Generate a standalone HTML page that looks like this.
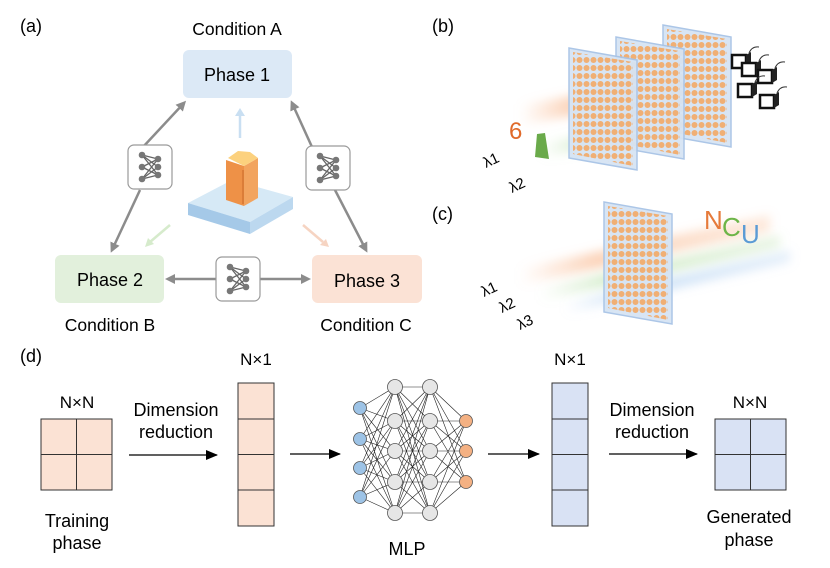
<!DOCTYPE html>
<html><head><meta charset="utf-8"><style>
html,body{margin:0;padding:0;background:#fff;}
svg{display:block;font-family:"Liberation Sans",Arial,sans-serif;}
</style></head><body>
<svg width="830" height="568" viewBox="0 0 830 568" xmlns="http://www.w3.org/2000/svg">
<defs>
<filter id="blur" x="-20%" y="-50%" width="140%" height="200%"><feGaussianBlur stdDeviation="5"/></filter>
<marker id="ga" markerWidth="10" markerHeight="10" refX="7" refY="5" orient="auto" markerUnits="userSpaceOnUse"><path d="M0,0 L10,5 L0,10 Z" fill="#8c8c8c"/></marker>
<marker id="ka" markerWidth="12" markerHeight="10" refX="11" refY="5" orient="auto" markerUnits="userSpaceOnUse"><path d="M0,0 L12,5 L0,10 Z" fill="#000"/></marker>
<pattern id="dots" width="7" height="8" patternUnits="userSpaceOnUse"><circle cx="3.5" cy="4" r="3" fill="#f5a65e" opacity="0.85"/></pattern>
<linearGradient id="bo" x1="0" x2="1"><stop offset="0" stop-color="#f9b88e" stop-opacity="0"/><stop offset="0.3" stop-color="#f9b88e" stop-opacity="0.6"/><stop offset="1" stop-color="#f9b88e" stop-opacity="0.3"/></linearGradient>
<linearGradient id="bg" x1="0" x2="1"><stop offset="0" stop-color="#b6dfa8" stop-opacity="0"/><stop offset="0.3" stop-color="#b6dfa8" stop-opacity="0.6"/><stop offset="1" stop-color="#b6dfa8" stop-opacity="0.3"/></linearGradient>
<linearGradient id="bb" x1="0" x2="1"><stop offset="0" stop-color="#a9ccf0" stop-opacity="0"/><stop offset="0.3" stop-color="#a9ccf0" stop-opacity="0.6"/><stop offset="1" stop-color="#a9ccf0" stop-opacity="0.3"/></linearGradient>
<g id="nn">
 <rect x="0" y="0" width="44" height="44" rx="6" fill="#fff" stroke="#9a9a9a" stroke-width="1.2"/>
 <g stroke="#666" stroke-width="1.3"><line x1="14" y1="10" x2="30" y2="14"/><line x1="14" y1="10" x2="30" y2="22"/><line x1="14" y1="10" x2="30" y2="30"/><line x1="14" y1="22" x2="30" y2="14"/><line x1="14" y1="22" x2="30" y2="30"/><line x1="14" y1="34" x2="30" y2="14"/><line x1="14" y1="34" x2="30" y2="22"/><line x1="14" y1="34" x2="30" y2="30"/></g>
 <g fill="#777"><circle cx="14" cy="10" r="3.3"/><circle cx="14" cy="22" r="3.3"/><circle cx="14" cy="34" r="3.3"/><circle cx="30" cy="14" r="3.3"/><circle cx="30" cy="22" r="3.3"/><circle cx="30" cy="30" r="3.3"/></g>
</g>
<g id="plane">
 <path d="M0,0 L68,12 L68,122 L0,110 Z" fill="#d6e4f4" stroke="#a8c4e6" stroke-width="1.5" opacity="0.95"/>
 <path d="M4,4 L64,14 L64,118 L4,106 Z" fill="url(#dots)"/>
</g>
<g id="cam"><rect x="0" y="0" width="14" height="13" fill="#fff" stroke="#111" stroke-width="2.5"/><path d="M14,0 l5,-3 v13 l-5,3 Z" fill="#222"/><path d="M17,-2 q3,-7 10,-6" fill="none" stroke="#333"/></g>
</defs>

<!-- (a) -->
<text x="20" y="32" font-size="18">(a)</text>
<text x="237" y="35" font-size="17.5" text-anchor="middle">Condition A</text>
<rect x="183" y="50" width="109" height="48" rx="6" fill="#dce9f6"/>
<text x="237" y="81" font-size="18" text-anchor="middle">Phase 1</text>
<rect x="55" y="255" width="109" height="48" rx="6" fill="#e2f0dc"/>
<text x="110" y="286" font-size="18" text-anchor="middle">Phase 2</text>
<rect x="312" y="255" width="110" height="48" rx="6" fill="#fbe2d5"/>
<text x="367" y="287" font-size="18" text-anchor="middle">Phase 3</text>
<text x="110" y="331" font-size="17.5" text-anchor="middle">Condition B</text>
<text x="366" y="331" font-size="17.5" text-anchor="middle">Condition C</text>

<g stroke="#8c8c8c" stroke-width="2.5" fill="none">
<line x1="143" y1="147" x2="184" y2="103" marker-end="url(#ga)"/>
<line x1="140" y1="190" x2="112" y2="250" marker-end="url(#ga)"/>
<line x1="312" y1="147" x2="292" y2="103" marker-end="url(#ga)"/>
<line x1="335" y1="190" x2="366" y2="250" marker-end="url(#ga)"/>
<line x1="216" y1="279" x2="168" y2="279" marker-end="url(#ga)"/>
<line x1="260" y1="279" x2="308" y2="279" marker-end="url(#ga)"/>
</g>
<use href="#nn" x="128" y="145"/>
<use href="#nn" x="306" y="146"/>
<use href="#nn" x="216" y="257"/>
<line x1="240" y1="138" x2="240" y2="114" stroke="#c9dff2" stroke-width="2.5"/>
<path d="M240,108 l-5,8 h10 Z" fill="#c9dff2"/>
<line x1="170" y1="225" x2="150" y2="242" stroke="#d6ebcc" stroke-width="2.5"/><path d="M145,247 l3,-9 l6,6 Z" fill="#d6ebcc"/>
<line x1="303" y1="225" x2="323" y2="242" stroke="#f6d4c2" stroke-width="2.5"/><path d="M329,247 l-9,-2 l6,-6 Z" fill="#f6d4c2"/>
<path d="M188,203 L232,180 L293,197 L250,222 Z" fill="#d6e9f6"/>
<path d="M188,203 L250,222 L250,234 L188,215 Z" fill="#a5c9e8"/>
<path d="M250,222 L293,197 L293,209 L250,234 Z" fill="#bcd8ef"/>
<path d="M226,160 L244,166 L244,206 L226,200 Z" fill="#ee9147"/>
<path d="M244,166 L258,158 L258,198 L244,206 Z" fill="#f2a45f"/>
<path d="M228,158 L238,151 L250,152 L258,158 L244,166 Z" fill="#fcd17e"/>
<line x1="243" y1="170" x2="243" y2="204" stroke="#c8692a" stroke-width="1"/>

<!-- (b) -->
<text x="432" y="32" font-size="18">(b)</text>
<path d="M520,105 L690,75 L690,95 L520,125 Z" fill="url(#bo)" filter="url(#blur)"/>
<path d="M540,143 L720,110 L720,125 L540,158 Z" fill="url(#bg)" filter="url(#blur)"/>
<use href="#plane" x="663" y="25"/>
<use href="#plane" x="616" y="37"/>
<use href="#plane" x="569" y="48"/>
<text x="509" y="139" font-size="24" fill="#e06a2a">6</text>
<path d="M537,134 l8,-1 l4,26 l-14,-2 Z" fill="#6aaa4a"/>
<text x="486" y="168" font-size="15" transform="rotate(-25 486 168)">λ1</text>
<text x="512" y="193" font-size="15" transform="rotate(-25 512 193)">λ2</text>
<use href="#cam" x="732" y="55"/><use href="#cam" x="742" y="63"/>
<use href="#cam" x="758" y="70"/><use href="#cam" x="738" y="84"/><use href="#cam" x="760" y="95"/>

<!-- (c) -->
<text x="432" y="220" font-size="18">(c)</text>
<path d="M520,268 L770,215 L770,232 L520,285 Z" fill="url(#bo)" filter="url(#blur)"/>
<path d="M540,288 L780,235 L780,248 L540,301 Z" fill="url(#bg)" filter="url(#blur)"/>
<path d="M565,302 L790,250 L790,262 L565,314 Z" fill="url(#bb)" filter="url(#blur)"/>
<use href="#plane" x="604" y="202"/>
<text x="704" y="229" font-size="26" fill="#e67a3a">N</text>
<text x="722" y="236" font-size="26" fill="#6db548">C</text>
<text x="741" y="243" font-size="26" fill="#5b9bd5">U</text>
<text x="484" y="297" font-size="15" transform="rotate(-25 484 297)">λ1</text>
<text x="502" y="313" font-size="15" transform="rotate(-25 502 313)">λ2</text>
<text x="520" y="330" font-size="15" transform="rotate(-25 520 330)">λ3</text>

<!-- (d) -->
<text x="20" y="362" font-size="18">(d)</text>
<text x="77" y="408" font-size="17" text-anchor="middle">N×N</text>
<g stroke="#333" stroke-width="1"><rect x="41" y="419" width="71" height="71" fill="#fbe2d4"/><line x1="76.5" y1="419" x2="76.5" y2="490"/><line x1="41" y1="454.5" x2="112" y2="454.5"/></g>
<text x="77" y="527" font-size="18" text-anchor="middle">Training</text>
<text x="77" y="549" font-size="18" text-anchor="middle">phase</text>
<text x="176" y="416" font-size="18" text-anchor="middle">Dimension</text>
<text x="176" y="438" font-size="18" text-anchor="middle">reduction</text>
<line x1="129" y1="455" x2="217" y2="455" stroke="#000" stroke-width="1.3" marker-end="url(#ka)"/>
<text x="256" y="365" font-size="17" text-anchor="middle">N×1</text>
<g stroke="#333" stroke-width="1"><rect x="238" y="383" width="36" height="143" fill="#fbe2d4"/><line x1="238" y1="419" x2="274" y2="419"/><line x1="238" y1="454.5" x2="274" y2="454.5"/><line x1="238" y1="490" x2="274" y2="490"/></g>
<line x1="290" y1="454" x2="340" y2="454" stroke="#000" stroke-width="1.3" marker-end="url(#ka)"/>

<g stroke="#222" stroke-width="0.6">
<path d="M360,408 L395,387 M360,408 L395,421 M360,408 L395,451 M360,408 L395,482 M360,408 L395,513 M360,439 L395,387 M360,439 L395,421 M360,439 L395,451 M360,439 L395,482 M360,439 L395,513 M360,468 L395,387 M360,468 L395,421 M360,468 L395,451 M360,468 L395,482 M360,468 L395,513 M360,497 L395,387 M360,497 L395,421 M360,497 L395,451 M360,497 L395,482 M360,497 L395,513"/>
<path d="M395,387 L430,387 M395,387 L430,421 M395,387 L430,451 M395,387 L430,482 M395,387 L430,513 M395,421 L430,387 M395,421 L430,421 M395,421 L430,451 M395,421 L430,482 M395,421 L430,513 M395,451 L430,387 M395,451 L430,421 M395,451 L430,451 M395,451 L430,482 M395,451 L430,513 M395,482 L430,387 M395,482 L430,421 M395,482 L430,451 M395,482 L430,482 M395,482 L430,513 M395,513 L430,387 M395,513 L430,421 M395,513 L430,451 M395,513 L430,482 M395,513 L430,513"/>
<path d="M430,387 L466,421 M430,387 L466,451 M430,387 L466,482 M430,421 L466,421 M430,421 L466,451 M430,421 L466,482 M430,451 L466,421 M430,451 L466,451 M430,451 L466,482 M430,482 L466,421 M430,482 L466,451 M430,482 L466,482 M430,513 L466,421 M430,513 L466,451 M430,513 L466,482"/>
</g>
<g stroke="#555" stroke-width="0.8">
<g fill="#9dc3e6"><circle cx="360" cy="408" r="6.5"/><circle cx="360" cy="439" r="6.5"/><circle cx="360" cy="468" r="6.5"/><circle cx="360" cy="497" r="6.5"/></g>
<g fill="#e6e6e6"><circle cx="395" cy="387" r="7.5"/><circle cx="395" cy="421" r="7.5"/><circle cx="395" cy="451" r="7.5"/><circle cx="395" cy="482" r="7.5"/><circle cx="395" cy="513" r="7.5"/>
<circle cx="430" cy="387" r="7.5"/><circle cx="430" cy="421" r="7.5"/><circle cx="430" cy="451" r="7.5"/><circle cx="430" cy="482" r="7.5"/><circle cx="430" cy="513" r="7.5"/></g>
<g fill="#f4b183"><circle cx="466" cy="421" r="6.5"/><circle cx="466" cy="451" r="6.5"/><circle cx="466" cy="482" r="6.5"/></g>
</g>
<text x="407" y="555" font-size="18" text-anchor="middle">MLP</text>
<line x1="488" y1="454" x2="539" y2="454" stroke="#000" stroke-width="1.3" marker-end="url(#ka)"/>

<text x="570" y="365" font-size="17" text-anchor="middle">N×1</text>
<g stroke="#333" stroke-width="1"><rect x="552" y="383" width="36" height="143" fill="#d9e2f4"/><line x1="552" y1="419" x2="588" y2="419"/><line x1="552" y1="454.5" x2="588" y2="454.5"/><line x1="552" y1="490" x2="588" y2="490"/></g>
<text x="652" y="416" font-size="18" text-anchor="middle">Dimension</text>
<text x="652" y="438" font-size="18" text-anchor="middle">reduction</text>
<line x1="609" y1="454" x2="697" y2="454" stroke="#000" stroke-width="1.3" marker-end="url(#ka)"/>
<text x="750" y="408" font-size="17" text-anchor="middle">N×N</text>
<g stroke="#333" stroke-width="1"><rect x="715" y="419" width="71" height="71" fill="#d9e2f4"/><line x1="750.5" y1="419" x2="750.5" y2="490"/><line x1="715" y1="454.5" x2="786" y2="454.5"/></g>
<text x="749" y="523" font-size="18" text-anchor="middle">Generated</text>
<text x="749" y="546" font-size="18" text-anchor="middle">phase</text>
</svg>
</body></html>
